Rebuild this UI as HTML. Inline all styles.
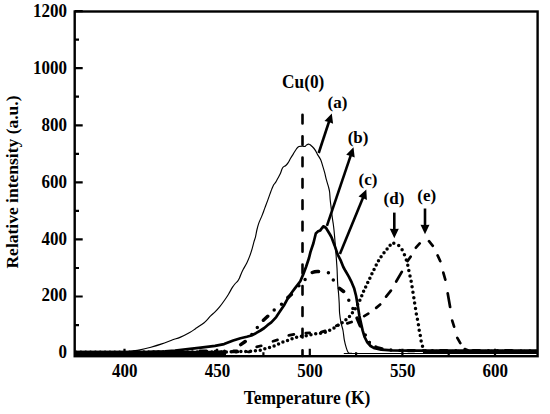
<!DOCTYPE html>
<html><head><meta charset="utf-8"><style>
html,body{margin:0;padding:0;background:#fff;width:550px;height:414px;overflow:hidden}
svg{display:block}
</style></head><body>
<svg width="550" height="414" viewBox="0 0 550 414">
<rect x="74.7" y="350.8" width="151.3" height="5" fill="#000"/>
<rect x="423" y="351" width="114.6" height="2.6" fill="#000"/>
<path d="M302.5 114.8 L302.5 356" stroke="#000" stroke-width="2.6" stroke-dasharray="8.6 12.8" stroke-linecap="round" fill="none"/>
<path d="M256.7 346.9L261.2 345.8M273.0 341.3L277.5 339.9M288.8 335.4L293.9 334.4M305.8 333.1L309.7 332.8M321.3 332.1L325.2 330.9M336.3 325.8L338.2 325.1M347.3 323.4L351.6 322.0M364.2 316.1L368.3 313.7M376.2 307.9L380.2 304.5M386.1 296.6L390.9 290.6M396.2 281.5L401.8 271.8M407.6 261.1L410.6 256.7M415.9 247.7L419.7 243.4M429.0 241.2L432.8 245.8M437.6 255.4L440.3 261.2M443.3 272.6L445.3 279.7M447.7 293.3L450.1 307.0M452.2 320.6L454.1 326.7M457.3 337.9L460.3 343.2M464.8 349.1L467.7 350.3" stroke="#000" stroke-width="2.7" stroke-linecap="round" fill="none"/>
<path d="M200 351.8H250M476 351.8H537" stroke="#000" stroke-width="2.7" stroke-dasharray="6 10" stroke-linecap="round" fill="none"/>
<path d="M200 351.2H237" stroke="#000" stroke-width="3.3" stroke-dasharray="6.5 9 0 9 0 9" stroke-linecap="round" fill="none"/>
<path d="M369.3 342.5L372.5 345.5L377 347.6L384 349.2L392 350.1L405 350.6L537 350.8" stroke="#000" stroke-width="3.3" stroke-dasharray="0 8 6.5 9 0 9" stroke-linecap="round" stroke-linejoin="round" fill="none"/>
<path d="M76 352.2 L225 352 L243.3 351.5 L249.3 351.4 L254.7 350.8 L260.7 350.3 L265.6 348.6 L270 347.5 L274.4 345.9 L278.2 344.3 L282.5 342.1 L287.5 340.5 L291.8 338.8 L296.2 337.2 L301.7 336.3 L306.8 335.6 L311.8 334.5 L316.4 333.6 L320 333.4 L325.9 332.1 L331.4 329.5 L334.3 327.9 L337 326 L341.6 323.2 L345.6 320 L348.9 317.3 L351.6 313.6 L354.3 310.3 L356.8 306.1 L359 301.9 L361.1 297.7 L362.6 293.3 L364.7 289.1 L366.7 284.5 L368.9 280.3 L370.9 275.8 L373.1 271.3 L375.2 267.1 L377.3 262.9 L379.8 258.5 L382.3 254.9 L384.2 252.6 L387 249.2 L390 245.4 L393.8 243.3" stroke="#000" stroke-width="3.5" stroke-dasharray="0 4.85" stroke-linecap="round" stroke-linejoin="round" fill="none"/>
<path d="M393.8 243.3 L397.9 244.7 L401.1 247.9 L403.5 252.4 L405.4 257.2 L407.2 262.5 L408.3 267.7 L409.3 273.2 L410.6 278.3 L411.8 285 L412.7 290.8 L413.6 295.9 L414.4 301.8 L415.3 306.9 L416.1 312.8 L417.3 318.7 L418.3 323.8 L419.1 329.7 L420.3 335.6 L421.2 341.5 L422.8 347.4 L425 350.8 L430 351.5 L537 351.5" stroke="#000" stroke-width="3.5" stroke-dasharray="0 5.5" stroke-linecap="round" stroke-linejoin="round" fill="none"/>
<path d="M240.7 344.6L245.2 341.5M263.4 320.2L267.7 316.3M287.9 297.6L291.3 294.4M339.5 288.4L343.6 291.5M357.1 318.1L360.3 325.9M312.3 272.5Q315.5 271.1 318.5 271.5M251.8 334.5h0M257.3 327.6h0M274.2 310.1h0M281.5 304.3h0M298.9 285.8h0M305.1 279.6h0M328.4 272.7h0M333.3 280.0h0M348.8 300.3h0M352.9 308.6h0M365.3 335.0h0M369.3 342.5h0" stroke="#000" stroke-width="3.5" stroke-linecap="round" fill="none"/>
<path d="M76 352 L130 352 L150 351.8 L165 351.3 L175 350.5 L190 348.8 L200.9 347.6 L215 345.9 L224.1 344.1 L233.2 340.5 L240.5 338.2 L246.8 336.8 L251.4 335.5 L255.9 333.2 L260.5 330.5 L264.3 328 L267.5 325.2 L271.3 322.4 L276.2 317.1 L280 311.3 L283.9 305.5 L287.7 298.7 L291.6 292.8 L294.5 288.9 L297.4 285.1 L300.3 281.2 L303.2 274.4 L306.1 266.7 L309 258 L310.5 251.9 L313.4 243.2 L315.8 233.5 L317.7 231.6 L320.1 230.6 L323.3 226.3 L325.9 227.7 L330 234.5 L331.7 237.7 L334.6 245.4 L337.5 254.1 L340.9 260.9 L343.3 267 L345.4 270.8 L348.8 276.6 L351.7 282.4 L354.1 288.2 L356.1 296 L357.3 303 L358.3 309 L359.4 316 L360.6 321.3 L362.6 330.4 L364.6 337 L367.3 342.3 L370.6 346 L374.6 348.3 L381.2 349.6 L391.8 350.4 L410 350.7 L537 350.7" stroke="#000" stroke-width="2.7" stroke-linejoin="round" fill="none"/>
<path d="M76 352.9 C83.67 352.87 113 352.95 122 352.7 C131 352.45 127 351.87 130 351.4 C133 350.93 136.52 350.6 140 349.9 C143.48 349.2 147.27 348.2 150.9 347.2 C154.53 346.2 158.17 345.13 161.8 343.9 C165.43 342.67 169.67 340.88 172.7 339.8 C175.73 338.72 177.17 338.62 180 337.4 C182.83 336.18 187.12 333.95 189.7 332.5 C192.28 331.05 193.57 329.98 195.5 328.7 C197.43 327.42 199.7 325.93 201.3 324.8 C202.9 323.67 203.5 323.43 205.1 321.9 C206.7 320.37 209.28 317.22 210.9 315.6 C212.52 313.98 213.35 313.65 214.8 312.2 C216.25 310.75 217.95 308.93 219.6 306.9 C221.25 304.87 223.22 302.12 224.7 300 C226.18 297.88 227.22 296.3 228.5 294.2 C229.78 292.1 231.27 289.18 232.4 287.4 C233.53 285.62 234.42 284.55 235.3 283.5 C236.18 282.45 236.98 282.07 237.7 281.1 C238.42 280.13 239.03 278.9 239.6 277.7 C240.17 276.5 240.47 275.33 241.1 273.9 C241.73 272.47 242.45 270.93 243.4 269.1 C244.35 267.27 245.75 265.07 246.8 262.9 C247.85 260.73 248.82 258.45 249.7 256.1 C250.58 253.75 251.38 251.22 252.1 248.8 C252.82 246.38 253.43 243.6 254 241.6 C254.57 239.6 255 238.82 255.5 236.8 C256 234.78 256.43 231.82 257 229.5 C257.57 227.18 258.1 225.13 258.9 222.9 C259.7 220.67 260.83 218.52 261.8 216.1 C262.77 213.68 263.73 210.98 264.7 208.4 C265.67 205.82 266.72 203.02 267.6 200.6 C268.48 198.18 269.3 195.82 270 193.9 C270.7 191.98 271.18 190.62 271.8 189.1 C272.42 187.58 273.07 185.92 273.7 184.8 C274.33 183.68 274.88 183.53 275.6 182.4 C276.32 181.27 277.18 179.53 278 178 C278.82 176.47 279.85 174.65 280.5 173.2 C281.15 171.75 281.42 170.35 281.9 169.3 C282.38 168.25 282.75 167.53 283.4 166.9 C284.05 166.27 285 166.22 285.8 165.5 C286.6 164.78 287.4 163.82 288.2 162.6 C289 161.38 289.77 159.62 290.6 158.2 C291.43 156.78 292.23 155.63 293.2 154.1 C294.17 152.57 295.45 150.27 296.4 149 C297.35 147.73 297.85 146.98 298.9 146.5 C299.95 146.02 301.68 146.1 302.7 146.1 C303.72 146.1 304.37 146.7 305 146.5 C305.63 146.3 305.82 145.28 306.5 144.9 C307.18 144.52 308.35 144.1 309.1 144.2 C309.85 144.3 310.25 144.87 311 145.5 C311.75 146.13 312.85 147.15 313.6 148 C314.35 148.85 314.83 149.5 315.5 150.6 C316.17 151.7 316.73 153.07 317.6 154.6 C318.47 156.13 319.87 157.97 320.7 159.8 C321.53 161.63 321.95 163.5 322.6 165.6 C323.25 167.7 323.95 169.97 324.6 172.4 C325.25 174.83 325.85 177.78 326.5 180.2 C327.15 182.62 327.98 184.93 328.5 186.9 C329.02 188.87 329.32 189.87 329.6 192 C329.88 194.13 329.95 197.13 330.2 199.7 C330.45 202.27 330.78 204.67 331.1 207.4 C331.42 210.13 331.77 213.52 332.1 216.1 C332.43 218.68 332.78 220.58 333.1 222.9 C333.42 225.22 333.67 226.73 334 230 C334.33 233.27 334.77 238.48 335.1 242.5 C335.43 246.52 335.68 249.85 336 254.1 C336.32 258.35 336.77 264.02 337 268 C337.23 271.98 337.28 275.27 337.4 278 C337.52 280.73 337.5 281.73 337.7 284.4 C337.9 287.07 338.35 290.9 338.6 294 C338.85 297.1 339.03 299.78 339.2 303 C339.37 306.22 339.3 310.03 339.6 313.3 C339.9 316.57 340.43 319.73 341 322.6 C341.57 325.47 342.45 327.63 343 330.5 C343.55 333.37 343.75 336.92 344.3 339.8 C344.85 342.68 345.63 345.67 346.3 347.8 C346.97 349.93 347.42 351.67 348.3 352.6 C349.18 353.53 349.65 353.25 351.6 353.4 C353.55 353.55 329.1 353.48 360 353.5 C390.9 353.52 507.5 353.5 537 353.5" stroke="#000" stroke-width="1.15" stroke-linejoin="round" fill="none"/>
<rect x="74.7" y="11.5" width="462.9" height="344.7" fill="none" stroke="#000" stroke-width="2.4"/>
<path d="M74.7 353.6h8M74.7 325.1h4.3M74.7 296.5h8M74.7 268.0h4.3M74.7 239.4h8M74.7 210.9h4.3M74.7 182.4h8M74.7 153.8h4.3M74.7 125.3h8M74.7 96.7h4.3M74.7 68.2h8M74.7 39.7h4.3M74.7 11.1h8M78.2 356.2v-4M124.5 356.2v-7.5M170.8 356.2v-4M217.1 356.2v-7.5M263.4 356.2v-4M309.8 356.2v-7.5M356.1 356.2v-4M402.4 356.2v-7.5M448.7 356.2v-4M495.0 356.2v-7.5" stroke="#000" stroke-width="2.2" fill="none"/>
<line x1="318.7" y1="153.0" x2="329.4" y2="120.5" stroke="#000" stroke-width="2.6"/><polygon points="331.8,113.4 333.1,123.8 328.9,122.1 324.5,121.0" fill="#000"/>
<line x1="326.9" y1="225.8" x2="351.1" y2="154.3" stroke="#000" stroke-width="2.6"/><polygon points="353.5,147.2 354.7,157.6 350.6,155.9 346.2,154.8" fill="#000"/>
<line x1="339.9" y1="254.0" x2="363.5" y2="196.4" stroke="#000" stroke-width="2.6"/><polygon points="366.3,189.5 366.9,200.0 362.8,198.0 358.5,196.6" fill="#000"/>
<line x1="394.3" y1="212.6" x2="394.3" y2="230.8" stroke="#000" stroke-width="2.6"/><polygon points="394.3,238.3 389.8,228.8 394.3,229.1 398.8,228.8" fill="#000"/>
<line x1="425.0" y1="208.5" x2="425.0" y2="226.7" stroke="#000" stroke-width="2.6"/><polygon points="425.0,234.2 420.5,224.7 425.0,225.0 429.5,224.7" fill="#000"/>
<text transform="translate(67.0 358.3) scale(1 1.09)" font-family="Liberation Serif" font-weight="bold" font-size="17" text-anchor="end">0</text>
<text transform="translate(67.0 301.4) scale(1 1.09)" font-family="Liberation Serif" font-weight="bold" font-size="17" text-anchor="end">200</text>
<text transform="translate(67.0 244.5) scale(1 1.09)" font-family="Liberation Serif" font-weight="bold" font-size="17" text-anchor="end">400</text>
<text transform="translate(67.0 187.5) scale(1 1.09)" font-family="Liberation Serif" font-weight="bold" font-size="17" text-anchor="end">600</text>
<text transform="translate(67.0 130.6) scale(1 1.09)" font-family="Liberation Serif" font-weight="bold" font-size="17" text-anchor="end">800</text>
<text transform="translate(67.0 73.7) scale(1 1.09)" font-family="Liberation Serif" font-weight="bold" font-size="17" text-anchor="end">1000</text>
<text transform="translate(67.0 16.8) scale(1 1.09)" font-family="Liberation Serif" font-weight="bold" font-size="17" text-anchor="end">1200</text>
<text transform="translate(124.8 376.6) scale(1 1.09)" font-family="Liberation Serif" font-weight="bold" font-size="17" text-anchor="middle">400</text>
<text transform="translate(217.4 376.6) scale(1 1.09)" font-family="Liberation Serif" font-weight="bold" font-size="17" text-anchor="middle">450</text>
<text transform="translate(310.1 376.6) scale(1 1.09)" font-family="Liberation Serif" font-weight="bold" font-size="17" text-anchor="middle">500</text>
<text transform="translate(402.7 376.6) scale(1 1.09)" font-family="Liberation Serif" font-weight="bold" font-size="17" text-anchor="middle">550</text>
<text transform="translate(495.3 376.6) scale(1 1.09)" font-family="Liberation Serif" font-weight="bold" font-size="17" text-anchor="middle">600</text>
<text transform="translate(307 404) scale(1 1.06)" font-family="Liberation Serif" font-weight="bold" font-size="17.5" text-anchor="middle">Temperature (K)</text>
<text transform="translate(17.5 182) rotate(-90)" font-family="Liberation Serif" font-weight="bold" font-size="17.5" text-anchor="middle">Relative intensity (a.u.)</text>
<text transform="translate(303.2 87.7) scale(1 1.08)" font-family="Liberation Serif" font-weight="bold" font-size="17.3" text-anchor="middle">Cu(0)</text>
<text x="337.5" y="108.3" font-family="Liberation Serif" font-weight="bold" font-size="17" text-anchor="middle">(a)</text>
<text x="358.1" y="142.8" font-family="Liberation Serif" font-weight="bold" font-size="17" text-anchor="middle">(b)</text>
<text x="368" y="185.4" font-family="Liberation Serif" font-weight="bold" font-size="17" text-anchor="middle">(c)</text>
<text x="394" y="203.8" font-family="Liberation Serif" font-weight="bold" font-size="17" text-anchor="middle">(d)</text>
<text x="426.7" y="200.8" font-family="Liberation Serif" font-weight="bold" font-size="17" text-anchor="middle">(e)</text>
</svg>
</body></html>
